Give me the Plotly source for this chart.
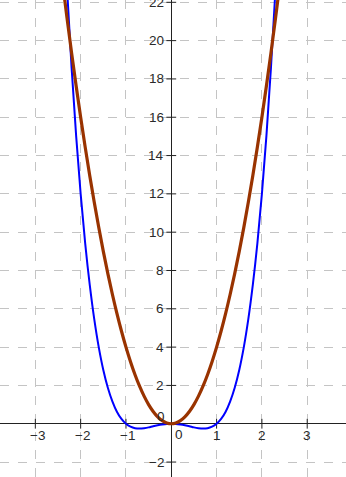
import plotly.graph_objects as go

# Sample points (x from -2.4 to 2.4, step 0.1)
xs = [-2.4, -2.3, -2.2, -2.1, -2.0, -1.9, -1.8, -1.7, -1.6, -1.5, -1.4, -1.3, -1.2,
      -1.1, -1.0, -0.9, -0.8, -0.7, -0.6, -0.5, -0.4, -0.3, -0.2, -0.1, 0.0,
      0.1, 0.2, 0.3, 0.4, 0.5, 0.6, 0.7, 0.8, 0.9, 1.0, 1.1, 1.2, 1.3, 1.4,
      1.5, 1.6, 1.7, 1.8, 1.9, 2.0, 2.1, 2.2, 2.3, 2.4]

blue_y = [27.42, 22.69, 18.59, 15.04, 12.0, 9.42, 7.26, 5.46, 3.99, 2.81, 1.88, 1.17, 0.63,
          0.25, 0.0, -0.15, -0.23, -0.25, -0.23, -0.19, -0.13, -0.08, -0.04, -0.01, 0.0,
          -0.01, -0.04, -0.08, -0.13, -0.19, -0.23, -0.25, -0.23, -0.15, 0.0, 0.25, 0.63,
          1.17, 1.88, 2.81, 3.99, 5.46, 7.26, 9.42, 12.0, 15.04, 18.59, 22.69, 27.42]

brown_y = [23.04, 21.16, 19.36, 17.64, 16.0, 14.44, 12.96, 11.56, 10.24, 9.0, 7.84, 6.76, 5.76,
           4.84, 4.0, 3.24, 2.56, 1.96, 1.44, 1.0, 0.64, 0.36, 0.16, 0.04, 0.0,
           0.04, 0.16, 0.36, 0.64, 1.0, 1.44, 1.96, 2.56, 3.24, 4.0, 4.84, 5.76,
           6.76, 7.84, 9.0, 10.24, 11.56, 12.96, 14.44, 16.0, 17.64, 19.36, 21.16, 23.04]

x_ticks = [-3, -2, -1, 1, 2, 3]
y_ticks = [-2, 2, 4, 6, 8, 10, 12, 14, 16, 18, 20, 22]


def lab(v):
    return ("\u2212" + str(abs(v))) if v < 0 else str(v)


fig = go.Figure()

# tick marks
fig.add_trace(go.Scatter(x=x_ticks, y=[0] * len(x_ticks), mode="markers",
                         marker=dict(symbol="line-ns", size=7,
                                     line=dict(color="#222222", width=1)),
                         hoverinfo="skip", showlegend=False))
fig.add_trace(go.Scatter(x=[0] * len(y_ticks), y=y_ticks, mode="markers",
                         marker=dict(symbol="line-ew", size=7,
                                     line=dict(color="#222222", width=1)),
                         hoverinfo="skip", showlegend=False))

fig.add_trace(go.Scatter(x=xs, y=blue_y, mode="lines",
                         line=dict(color="#0000ff", width=2, shape="spline"),
                         showlegend=False))
fig.add_trace(go.Scatter(x=xs, y=brown_y, mode="lines",
                         line=dict(color="#993300", width=3.2, shape="spline"),
                         showlegend=False))

font = dict(family="Liberation Sans, Arial", size=13.5, color="#2a2a2a")
annotations = []
for v in x_ticks:
    annotations.append(dict(x=v, y=0, xref="x", yref="y", text=lab(v), showarrow=False,
                            xanchor="center", yanchor="middle", yshift=-12,
                            xshift=2 if v < 0 else 0, font=font))
annotations.append(dict(x=0, y=0, xref="x", yref="y", text="0", showarrow=False,
                        xanchor="center", yanchor="middle", yshift=-11, xshift=8, font=font))
annotations.append(dict(x=0, y=0, xref="x", yref="y", text="0", showarrow=False,
                        xanchor="center", yanchor="middle", yshift=7, xshift=-10, font=font))
for v in y_ticks:
    annotations.append(dict(x=0, y=v, xref="x", yref="y", text=lab(v), showarrow=False,
                            xanchor="right", yanchor="middle", xshift=-5, font=font))

fig.update_layout(
    width=346, height=477,
    margin=dict(l=0, r=0, t=0, b=0),
    paper_bgcolor="white", plot_bgcolor="white",
    annotations=annotations,
    xaxis=dict(range=[-3.78, 3.856], dtick=1, tick0=0, showgrid=True,
               gridcolor="#c4c4c4", griddash="dash", gridwidth=1,
               zeroline=True, zerolinecolor="#222222", zerolinewidth=1.3,
               showticklabels=False, ticks="", fixedrange=True),
    yaxis=dict(range=[-2.78, 22.12], dtick=2, tick0=0, showgrid=True,
               gridcolor="#c4c4c4", griddash="dash", gridwidth=1,
               zeroline=True, zerolinecolor="#222222", zerolinewidth=1.3,
               showticklabels=False, ticks="", fixedrange=True),
)

fig.write_html("out.html")
